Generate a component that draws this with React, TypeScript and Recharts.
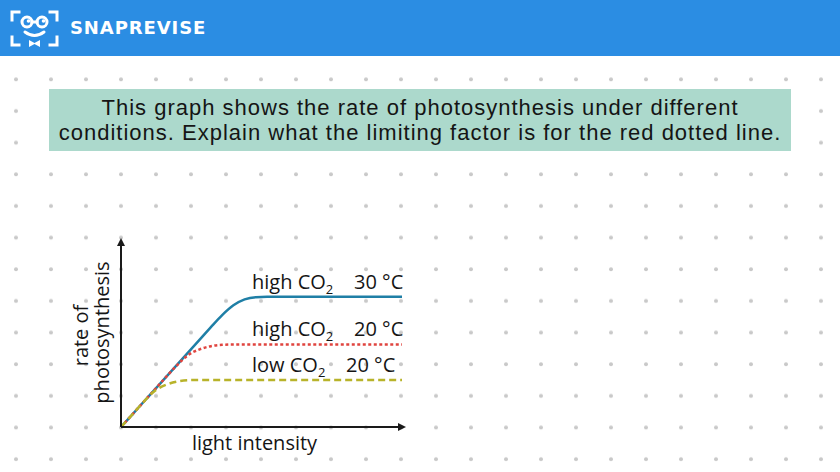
import { LineChart, Line, XAxis, YAxis, Label } from "recharts"

// light intensity (arbitrary units) and rate of photosynthesis for each condition
const lightIntensity = [0, 4, 8, 12, 16, 20, 24, 28, 32, 36, 40, 44, 48, 52, 100]
const highCo2At30 = [0, 6.7, 13.5, 20.2, 27, 33.7, 40.5, 47.2, 54, 60.5, 65.8, 69, 70.2, 70.4, 70.4]
const highCo2At20 = [0, 6.7, 13.5, 20.2, 27, 33.5, 39, 42, 43.7, 44.4, 44.6, 44.6, 44.6, 44.6, 44.6]
const lowCo2At20 = [0, 6.7, 13.5, 19.5, 22.8, 24.6, 25.3, 25.4, 25.4, 25.4, 25.4, 25.4, 25.4, 25.4, 25.4]

const data = lightIntensity.map((x, i) => ({
  x,
  high30: highCo2At30[i],
  high20: highCo2At20[i],
  low20: lowCo2At20[i],
}))

const font = "'Open Sans', sans-serif"
const ink = "#151515"

const lineLabel = (level: string, temp: string, tempBack: number) => (props: any) => {
  const { x, y, index } = props
  if (index !== lightIntensity.length - 1) return null
  return (
    <text x={x - 150} y={y - 8} fontSize={20} fill={ink} fontFamily={font}>
      <tspan>{level} CO</tspan>
      <tspan fontSize={13} dy={5}>2</tspan>
      <tspan x={x - tempBack} dy={-5}>{temp}</tspan>
    </text>
  )
}

function Logo() {
  return (
    <svg width={70} height={56} style={{ position: "absolute", left: 0, top: 0 }}>
      <g fill="none" stroke="#fff" strokeWidth={3} strokeLinecap="square">
        <path d="M12 20 V12 H19" />
        <path d="M50 12 H57 V20" />
        <path d="M12 37 V45 H19" />
        <path d="M50 45 H57 V37" />
        <circle cx={27} cy={22} r={5} />
        <circle cx={42} cy={22} r={5} />
        <path d="M32 22 H37" />
        <path d="M25 32 Q34.5 39 44 32" strokeLinecap="round" />
      </g>
      <circle cx={28.5} cy={21} r={1.8} fill="#fff" />
      <circle cx={43.5} cy={21} r={1.8} fill="#fff" />
      <path d="M29 40 L34.5 43 L40 40 V47 L34.5 44 L29 47 Z" fill="#fff" />
    </svg>
  )
}

export default function App() {
  return (
    <div
      style={{
        position: "absolute",
        left: 0,
        top: 0,
        width: 840,
        height: 472,
        overflow: "hidden",
        background: "#fff",
      }}
    >
      <svg width={840} height={472} style={{ position: "absolute", left: 0, top: 0 }}>
        <defs>
          <pattern id="dots" width={35} height={31.65} patternUnits="userSpaceOnUse">
            <circle cx={16} cy={16} r={2} fill="#c9c9c9" />
          </pattern>
        </defs>
        <rect width={840} height={472} fill="url(#dots)" />
      </svg>

      <div
        style={{
          position: "absolute",
          left: 0,
          top: 0,
          width: 840,
          height: 56,
          background: "#2b8de3",
        }}
      >
        <Logo />
        <div
          style={{
            position: "absolute",
            left: 70,
            top: 17,
            color: "#fff",
            fontFamily: "'DejaVu Sans', sans-serif",
            fontWeight: 700,
            fontSize: 18,
            letterSpacing: 0.9,
            lineHeight: "22px",
          }}
        >
          SNAPREVISE
        </div>
      </div>

      <div
        style={{
          position: "absolute",
          left: 49,
          top: 89,
          width: 742,
          height: 62,
          background: "#acd9cc",
          color: ink,
          fontFamily: "'Liberation Sans', Arial, sans-serif",
          fontSize: 22,
          letterSpacing: 1,
          lineHeight: "25px",
          textAlign: "center",
          display: "flex",
          flexDirection: "column",
          justifyContent: "center",
          whiteSpace: "nowrap",
        }}
      >
        <div>This graph shows the rate of photosynthesis under different</div>
        <div>conditions. Explain what the limiting factor is for the red dotted line.</div>
      </div>

      <LineChart
        width={840}
        height={472}
        data={data}
        margin={{ top: 242, right: 438, bottom: 0, left: 0 }}
        style={{ position: "absolute", left: 0, top: 0 }}
      >
        <defs>
          <marker
            id="arrow"
            viewBox="0 0 10 10"
            refX={5}
            refY={5}
            markerWidth={9}
            markerHeight={8}
            markerUnits="userSpaceOnUse"
            orient="auto-start-reverse"
          >
            <path d="M0 0 L10 5 L0 10 Z" fill="#1a1a1a" />
          </marker>
        </defs>
        <XAxis
          dataKey="x"
          type="number"
          domain={[0, 100]}
          height={45}
          tick={false}
          tickLine={false}
          axisLine={{ stroke: "#1a1a1a", strokeWidth: 2, markerEnd: "url(#arrow)" }}
        >
          <Label
            content={(p: any) => (
              <text
                x={p.viewBox.x + p.viewBox.width / 2 - 7}
                y={p.viewBox.y + 23}
                textAnchor="middle"
                fontSize={20}
                fill={ink}
                fontFamily={font}
              >
                light intensity
              </text>
            )}
          />
        </XAxis>
        <YAxis
          type="number"
          domain={[0, 100]}
          width={121}
          tick={false}
          tickLine={false}
          axisLine={{ stroke: "#1a1a1a", strokeWidth: 2, markerStart: "url(#arrow)" }}
        >
          <Label
            content={(p: any) => {
              const cx = p.viewBox.x + p.viewBox.width
              const cy = p.viewBox.y + p.viewBox.height / 2
              return (
                <g fontSize={20} fill={ink} fontFamily={font} textAnchor="middle">
                  <text transform={`translate(${cx - 33},${cy + 1}) rotate(-90)`}>rate of</text>
                  <text transform={`translate(${cx - 12.5},${cy - 2}) rotate(-90)`}>photosynthesis</text>
                </g>
              )
            }}
          />
        </YAxis>
        <Line
          dataKey="high30"
          type="monotone"
          stroke="#1f7fa6"
          strokeWidth={2.5}
          dot={false}
          isAnimationActive={false}
          label={lineLabel("high", "30 °C", 48)}
        />
        <Line
          dataKey="high20"
          type="monotone"
          stroke="#e0443f"
          strokeWidth={2.5}
          strokeDasharray="3 2.5"
          dot={false}
          isAnimationActive={false}
          label={lineLabel("high", "20 °C", 48)}
        />
        <Line
          dataKey="low20"
          type="monotone"
          stroke="#b8b32a"
          strokeWidth={2.5}
          strokeDasharray="7 4"
          dot={false}
          isAnimationActive={false}
          label={lineLabel("low", "20 °C", 56)}
        />
      </LineChart>
    </div>
  )
}
